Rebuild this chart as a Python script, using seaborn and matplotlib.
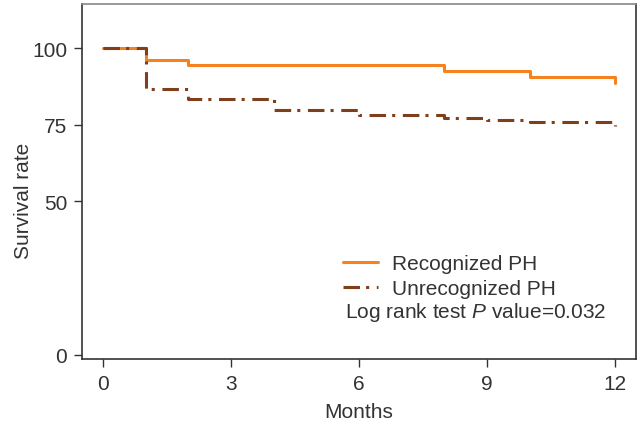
import pandas as pd
import numpy as np
import matplotlib
matplotlib.use("Agg")
import matplotlib.pyplot as plt
import seaborn as sns

# Kaplan-Meier steps
rec_months = [0, 1, 2, 8, 10, 12]
rec_surv = [100, 96.2, 94.5, 92.5, 90.6, 88.6]
unrec_months = [0, 1, 2, 4, 6, 8, 9, 10, 12]
unrec_surv = [100, 86.6, 83.3, 79.9, 78.2, 77.1, 76.6, 75.8, 74.7]
groups = ["Recognized PH", "Unrecognized PH"]
x_ticks = [0, 3, 6, 9, 12]
y_ticks = [0, 50, 75, 100]

sns.set_theme(style="ticks")
plt.rcParams["font.family"] = ["Liberation Sans", "DejaVu Sans"]
plt.rcParams["mathtext.fontset"] = "custom"
plt.rcParams["mathtext.rm"] = "Liberation Sans"
plt.rcParams["mathtext.it"] = "Liberation Sans:italic"

df = pd.concat([
    pd.DataFrame({"Months": rec_months, "Survival": rec_surv, "group": groups[0]}),
    pd.DataFrame({"Months": unrec_months, "Survival": unrec_surv, "group": groups[1]}),
])

fig = plt.figure(figsize=(6.41, 4.27), dpi=100)
ax = fig.add_axes([0.128, 0.157, 0.864, 0.831])

sns.lineplot(data=df, x="Months", y="Survival", hue="group", style="group",
             palette={groups[0]: "#F5821F", groups[1]: "#7E3F1A"},
             dashes={groups[0]: "", groups[1]: (5.4, 2, 1, 2.5)},
             drawstyle="steps-post", estimator=None, sort=False,
             linewidth=2.2, ax=ax)

ax.set_xlim(-0.49, 12.49)
ax.set_ylim(-1.3, 114.3)
ax.set_xticks(x_ticks)
ax.set_yticks(y_ticks)
ax.tick_params(labelsize=15, colors="#333333", length=5.8, width=1, pad=5)
for s in ax.spines.values():
    s.set_color("#333333")
    s.set_linewidth(1.2)
ax.spines["top"].set_color("#888888")
ax.set_xlabel("Months", fontsize=15, color="#333333")
ax.set_ylabel("Survival rate", fontsize=15, color="#333333")
ax.xaxis.set_label_coords(0.5, -0.121)
ax.yaxis.set_label_coords(-0.088, 0.448)

ax.legend(loc="upper left", bbox_to_anchor=(0.472, 0.296), frameon=False,
          fontsize=15, borderpad=0, borderaxespad=0, handlelength=1.65,
          handletextpad=0.7, labelspacing=0.3, labelcolor="#333333")
ax.text(5.67, 14.05, "Log rank test $\\mathit{P}$ value=0.032", fontsize=15,
        color="#333333", va="center", ha="left")

fig.savefig("out.png", dpi=100)
